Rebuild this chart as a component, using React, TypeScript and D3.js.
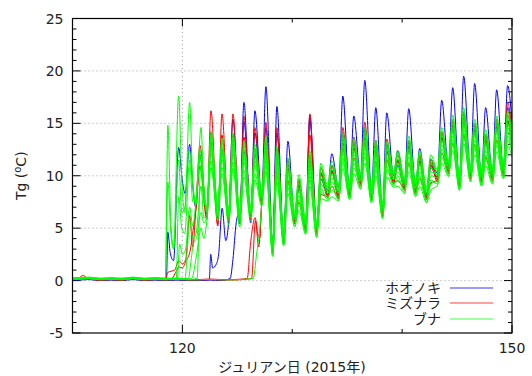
import * as d3 from "d3";
import React from "react";

// ---- data (Julian day 2015, Tg in degC) ----
const baselineDays = [110, 111, 112, 113, 114, 115, 116, 117, 118, 119, 120, 121, 122, 123, 124, 125, 126];
const baseline = [0.1, 0.15, 0.05, 0.1, 0.05, 0.15, 0.05, 0.1, 0.05, 0.1, 0.05, 0.05, 0.1, 0.05, 0.05, 0.1, 0.05];

const matureDays = [120, 121, 122, 123, 124, 125, 126, 127, 128, 129, 130, 131, 132, 133, 134,
  135, 136, 137, 138, 139, 140, 141, 142, 143, 144, 145, 146, 147, 148, 149];
const greenMax = [12.5, 12, 13, 12.4, 12.9, 12.1, 11.8, 12.6, 11.6, 10.5, 8.9, 11.2, 10, 10.2, 12.9,
  12.4, 13.4, 12.2, 12.1, 11.2, 12.6, 11.2, 10.8, 13.4, 14.6, 15.3, 14.2, 13.2, 14.5, 15.0];
const greenMin = [7, 7.3, 6.5, 6.6, 6.2, 6.0, 6.5, 8.0, 3.2, 4.2, 6.0, 5.3, 5.0, 8.5, 8.5,
  8.6, 9.6, 8.3, 6.8, 9.8, 9.2, 8.9, 8.3, 10.0, 10.8, 9.5, 10.3, 9.9, 10.1, 10.6];
const redMax = [12, 12.9, 16.2, 15.9, 15.9, 15.7, 14.6, 15.1, 14.6, 11.5, 9.5, 15.9, 10.2, 11, 14.6,
  13.7, 15.1, 13.4, 13.5, 11.5, 13.2, 11.8, 11.3, 14.2, 15.1, 15.9, 15.0, 13.8, 15.4, 17.0];
const redMin = [6.5, 6.8, 6.0, 5.4, 5.8, 5.6, 6.0, 7.5, 3.3, 3.7, 5.6, 5.0, 4.8, 8.2, 8.0,
  8.3, 9.3, 8.0, 6.3, 9.5, 9.0, 8.6, 8.0, 9.8, 10.5, 9.3, 10.0, 9.7, 9.9, 10.4];
const blueMax = [13.0, 12.0, 13.2, 12.5, 13.4, 17.0, 16.2, 18.5, 16.6, 13.3, 9.0, 15.8, 10.2, 12.1, 17.6,
  15.7, 19.1, 16.5, 16.0, 12.4, 16.4, 12.6, 11.6, 17.2, 18.4, 19.5, 18.8, 16.5, 18.2, 18.6];
const blueMin = [7.8, 7.0, 6.3, 6.0, 5.5, 5.5, 5.5, 7.8, 3.5, 4.0, 6.0, 5.2, 5.0, 8.6, 8.8,
  8.6, 9.8, 8.5, 6.8, 10.0, 9.3, 9.0, 8.2, 10.2, 10.8, 9.6, 10.4, 10.0, 10.2, 10.7];
const endValues = { blue: 13.5, red: 12.8, green: 12.3 };

const MIN_T = 0.22; // time of daily minimum (fraction of day)
const PEAK_T = 0.6; // time of daily maximum

type Profile = "blue" | "red" | "green";
type Sensor = {
  species: Profile; profile: Profile; start: number; join: number;
  dMax: number; dMin: number; base: number; early: [number, number][];
};

const sensors: Sensor[] = [
  { species: "blue", profile: "blue", start: 118.5, join: 121, dMax: 0, dMin: 0, base: 0.05,
    early: [[118.55, 0.2], [118.68, 4.6], [118.9, 2.6], [119.2, 1.9], [119.66, 12.7], [120.0, 9.5], [120.25, 8.3], [120.66, 13.0], [120.95, 9]] },
  { species: "blue", profile: "red", start: 122.4, join: 124, dMax: -0.5, dMin: 0, base: 0,
    early: [[122.45, 0.1], [122.58, 2.5], [122.75, 1.2], [123.1, 1.6], [123.3, 2.5], [123.62, 6.9], [123.95, 3.8]] },
  { species: "blue", profile: "green", start: 124.3, join: 125, dMax: 0.3, dMin: -0.3, base: -0.05,
    early: [[124.35, 0.2], [124.6, 2.0], [124.9, 5.5], [125.05, 6.2]] },
  { species: "red", profile: "red", start: 118.4, join: 121, dMax: 0, dMin: 0, base: 0,
    early: [[110.9, 0.5], [118.45, 0.2], [118.7, 0.8], [119.0, 0.9], [119.3, 1.0], [119.66, 1.9], [120.0, 1.6], [120.3, 2.0], [120.66, 6.2], [120.95, 3.2]] },
  { species: "red", profile: "red", start: 119.0, join: 121, dMax: -2, dMin: -0.2, base: 0.02,
    early: [[119.05, 0.2], [119.4, 0.8], [119.7, 1.3], [120.0, 1.2], [120.3, 1.8], [120.72, 2.9], [121.0, 5.0]] },
  { species: "red", profile: "green", start: 125.85, join: 127, dMax: 0.8, dMin: -0.4, base: 0.05,
    early: [[125.9, 0.2], [126.2, 3.5], [126.62, 6.0], [126.85, 4.5], [127.05, 4.1]] },
  { species: "red", profile: "green", start: 126.25, join: 127, dMax: 0.2, dMin: -0.6, base: 0,
    early: [[126.3, 0.2], [126.65, 5.7], [126.95, 3.2]] },
  { species: "green", profile: "green", start: 118.4, join: 122, dMax: 0.8, dMin: 0.3, base: 0.1,
    early: [[118.45, 0.2], [118.68, 14.8], [118.95, 5.5], [119.2, 3.2], [119.66, 17.6], [119.95, 9.5], [120.22, 6.5], [120.66, 17.0], [120.95, 9], [121.22, 7.2], [121.7, 14.6], [121.95, 8.5]] },
  { species: "green", profile: "green", start: 118.4, join: 120, dMax: 0, dMin: 0, base: 0.08,
    early: [[118.45, 0.2], [118.68, 9.4], [118.95, 4.5], [119.2, 3.0], [119.66, 11.5], [119.95, 6.5]] },
  { species: "green", profile: "green", start: 120.2, join: 122, dMax: -0.8, dMin: -0.2, base: 0.15,
    early: [[120.25, 0.2], [120.45, 3.0], [120.66, 5.8], [120.95, 4.0], [121.25, 4.5], [121.7, 9.0], [121.95, 6.0]] },
  { species: "green", profile: "green", start: 120.5, join: 122, dMax: -1.6, dMin: -0.5, base: 0.05,
    early: [[120.55, 0.2], [120.8, 2.0], [121.0, 3.5], [121.3, 4.1], [121.7, 6.5], [121.95, 5.5]] },
  { species: "green", profile: "green", start: 126.4, join: 127, dMax: -1.2, dMin: -0.8, base: 0.02,
    early: [[126.45, 0.2], [126.75, 2.5], [127.05, 5.0]] },
  { species: "green", profile: "green", start: 119.4, join: 121, dMax: 0.4, dMin: 0.4, base: 0.18,
    early: [[119.45, 0.2], [119.66, 8.0], [119.95, 5.0], [120.22, 4.5], [120.66, 11.5], [120.95, 7.5]] },
  { species: "green", profile: "green", start: 119.5, join: 121, dMax: -0.4, dMin: 0.1, base: 0.12,
    early: [[119.55, 0.2], [119.75, 3.5], [120.0, 2.5], [120.3, 3.0], [120.66, 7.0], [120.95, 5.2]] },
  { species: "green", profile: "green", start: 121.3, join: 122, dMax: 1.2, dMin: 0.6, base: 0.05,
    early: [[121.35, 0.2], [121.66, 11.0], [121.95, 7.5]] },
  { species: "green", profile: "green", start: 120.8, join: 122, dMax: -2.2, dMin: -0.9, base: 0.1,
    early: [[120.85, 0.2], [121.3, 2.5], [121.7, 5], [121.95, 4]] },
];

const species: Profile[] = ["blue", "red", "green"];
const speciesNames = ["ホオノキ", "ミズナラ", "ブナ"];
const colors: Record<Profile, string> = { blue: "#0000ff", red: "#ff0000", green: "#00ff00" };
const legendColors: Record<Profile, string> = { blue: "#7a7aff", red: "#ff8080", green: "#80ff80" };
const profiles = {
  blue: { max: blueMax, min: blueMin },
  red: { max: redMax, min: redMin },
  green: { max: greenMax, min: greenMin },
};

const yTicks = [-5, 0, 5, 10, 15, 20, 25];
const xTickLabels = [120, 150];
const xMinorTicks = [110, 120, 130, 140, 150];

function sensorPoints(s: Sensor): [number, number][] {
  const pts: [number, number][] = [[109.9, baseline[0] + s.base]];
  baselineDays.forEach((d, i) => {
    if (d + 0.5 < s.start) pts.push([d + 0.5, baseline[i] + s.base]);
  });
  s.early.forEach((p) => pts.push(p));
  const prof = profiles[s.profile];
  matureDays.forEach((d, i) => {
    if (d >= s.join) {
      pts.push([d + MIN_T, prof.min[i] + s.dMin]);
      pts.push([d + PEAK_T, prof.max[i] + s.dMax]);
    }
  });
  pts.push([150.1, endValues[s.profile] + s.dMin]);
  return pts.sort((a, b) => a[0] - b[0]);
}

const width = 532;
const height = 376;
const margin = { left: 72.5, right: 20, top: 18.5, bottom: 43 };
const font = "'DejaVu Sans', 'Noto Sans CJK JP', sans-serif";

export default function App() {
  const x = d3.scaleLinear().domain([110, 150]).range([margin.left, width - margin.right]);
  const y = d3.scaleLinear().domain([-5, 25]).range([height - margin.bottom, margin.top]);
  const line = d3.line<[number, number]>()
    .x((d) => x(d[0]))
    .y((d) => y(d[1]))
    .curve(d3.curveMonotoneX);

  const x0 = x(110), x1 = x(150), y0 = y(-5), y1 = y(25);
  const minorY = d3.range(-5, 25.01, 1);
  const ordered = species.flatMap((sp) => sensors.filter((s) => s.species === sp));

  return (
    <svg width={width} height={height} style={{ position: "absolute", left: 0, top: 0, background: "#fff" }}>
      <defs>
        <clipPath id="plot-clip">
          <rect x={x0} y={y1} width={x1 - x0} height={y0 - y1} />
        </clipPath>
      </defs>

      {/* grid */}
      <g stroke="#a0a0a0" strokeWidth={1} strokeDasharray="1,3">
        {yTicks.filter((t) => t > -5 && t < 25).map((t) => (
          <line key={t} x1={x0} x2={x1} y1={y(t)} y2={y(t)} />
        ))}
        <line x1={x(120)} x2={x(120)} y1={y0} y2={y1} />
      </g>

      {/* ticks */}
      <g stroke="#000" strokeWidth={1}>
        {minorY.map((t) => {
          const len = t % 5 === 0 ? 8 : 4;
          return (
            <g key={t}>
              <line x1={x0} x2={x0 + len} y1={y(t)} y2={y(t)} />
              <line x1={x1} x2={x1 - len} y1={y(t)} y2={y(t)} />
            </g>
          );
        })}
        {xMinorTicks.map((t) => {
          const len = xTickLabels.includes(t) ? 8 : 4;
          return (
            <g key={t}>
              <line x1={x(t)} x2={x(t)} y1={y0} y2={y0 - len} />
              <line x1={x(t)} x2={x(t)} y1={y1} y2={y1 + len} />
            </g>
          );
        })}
      </g>

      {/* data */}
      <g clipPath="url(#plot-clip)" fill="none" strokeWidth={1}>
        {ordered.map((s, i) => (
          <path key={i} d={line(sensorPoints(s)) ?? ""} stroke={colors[s.species]} />
        ))}
      </g>

      {/* frame */}
      <rect x={x0} y={y1} width={x1 - x0} height={y0 - y1} fill="none" stroke="#000" strokeWidth={1.2} />

      {/* tick labels */}
      <g fontFamily={font} fontSize={14} fill="#222">
        {yTicks.map((t) => (
          <text key={t} x={x0 - 9} y={y(t) + 5} textAnchor="end">{t}</text>
        ))}
        {xTickLabels.map((t) => (
          <text key={t} x={x(t)} y={353} textAnchor="middle">{t}</text>
        ))}
        <text x={292} y={372} textAnchor="middle">ジュリアン日 (2015年)</text>
        <text transform={`translate(26, ${(y0 + y1) / 2}) rotate(-90)`} textAnchor="middle">
          Tg (<tspan fontSize={10} dy={-5}>o</tspan><tspan dy={5}>C)</tspan>
        </text>
      </g>

      {/* legend */}
      <g fontFamily={font} fontSize={14} fill="#222">
        {species.map((sp, i) => {
          const ly = 287.5 + i * 15.5;
          return (
            <g key={sp}>
              <text x={441} y={ly + 5} textAnchor="end">{speciesNames[i]}</text>
              <line x1={450} x2={493} y1={Math.round(ly)} y2={Math.round(ly)} stroke={legendColors[sp]} strokeWidth={1.4} />
            </g>
          );
        })}
      </g>
    </svg>
  );
}
